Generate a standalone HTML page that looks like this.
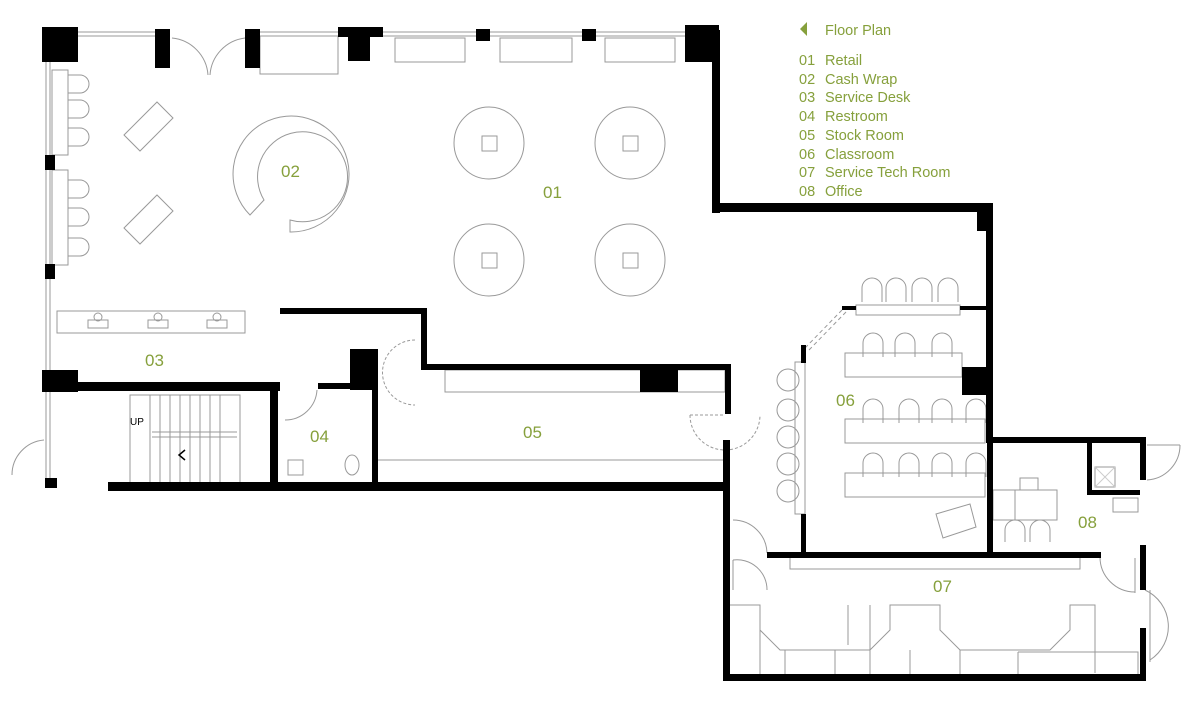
<!DOCTYPE html>
<html><head><meta charset="utf-8"><style>
html,body{margin:0;padding:0;background:#fff;width:1200px;height:709px;overflow:hidden}
svg{display:block}
.t{font-family:"Liberation Sans",sans-serif;fill:#86a03c}
</style></head><body>
<svg width="1200" height="709" viewBox="0 0 1200 709" xmlns="http://www.w3.org/2000/svg">
<g fill="none" stroke="#999" stroke-width="1">
<line x1="78" y1="32" x2="155" y2="32"/><line x1="78" y1="36" x2="155" y2="36"/>
<line x1="260" y1="32" x2="340" y2="32"/><line x1="260" y1="36" x2="340" y2="36"/>
<line x1="370" y1="32" x2="685" y2="32"/><line x1="370" y1="36" x2="685" y2="36"/>
<line x1="46" y1="62" x2="46" y2="380"/><line x1="50" y1="62" x2="50" y2="380"/>
<line x1="46" y1="392" x2="46" y2="480"/><line x1="50" y1="392" x2="50" y2="480"/>
<rect x="260" y="36" width="78" height="38"/>
<rect x="395" y="38" width="70" height="24"/><rect x="500" y="38" width="72" height="24"/><rect x="605" y="38" width="70" height="24"/>
<path d="M172 38 A40 40 0 0 1 208 75 M245 38 A40 40 0 0 0 210 75"/>
<rect x="52" y="70" width="16" height="85"/><rect x="52" y="170" width="16" height="95"/>
<path d="M68 75 h12 a8 8 0 0 1 0 18 h-12 M68 100 h12 a8 8 0 0 1 0 18 h-12 M68 128 h12 a8 8 0 0 1 0 18 h-12 M68 180 h12 a8 8 0 0 1 0 18 h-12 M68 208 h12 a8 8 0 0 1 0 18 h-12 M68 238 h12 a8 8 0 0 1 0 18 h-12"/>
<polygon points="124,135 157,102 173,118 140,151"/><polygon points="124,228 157,195 173,211 140,244"/>
<path d="M250 215 A58 58 0 1 1 290 232 L290 220 A45 45 0 1 0 264 200 Z"/>
<ellipse cx="489" cy="143" rx="35" ry="36"/><rect x="482" y="136" width="15" height="15"/>
<ellipse cx="630" cy="143" rx="35" ry="36"/><rect x="623" y="136" width="15" height="15"/>
<ellipse cx="489" cy="260" rx="35" ry="36"/><rect x="482" y="253" width="15" height="15"/>
<ellipse cx="630" cy="260" rx="35" ry="36"/><rect x="623" y="253" width="15" height="15"/>
<rect x="57" y="311" width="188" height="22"/>
<rect x="88" y="320" width="20" height="8"/><rect x="148" y="320" width="20" height="8"/><rect x="207" y="320" width="20" height="8"/>
<circle cx="98" cy="317" r="4"/><circle cx="158" cy="317" r="4"/><circle cx="217" cy="317" r="4"/>
<rect x="130" y="395" width="110" height="90"/>
<path d="M150 395v90 M160 395v90 M170 395v90 M180 395v90 M190 395v90 M200 395v90 M210 395v90 M220 395v90 M152 432 h85 M152 437 h85"/>
<path d="M12 475 A35 35 0 0 1 44 440"/>
<path d="M285 420 A32 32 0 0 0 317 390"/>
<rect x="288" y="460" width="15" height="15"/><ellipse cx="352" cy="465" rx="7" ry="10"/>
<rect x="445" y="370" width="280" height="22"/><line x1="378" y1="460" x2="725" y2="460"/>
<path d="M415 340 A32 32 0 0 0 415 405" stroke-dasharray="3 2"/>
<path d="M690 415 A35 35 0 0 0 760 415 M690 415 h35" stroke-dasharray="3 2"/>
<rect x="856" y="305" width="104" height="10"/>
<path d="M862 302 v-14 a10 10 0 0 1 20 0 v14 M886 302 v-14 a10 10 0 0 1 20 0 v14 M912 302 v-14 a10 10 0 0 1 20 0 v14 M938 302 v-14 a10 10 0 0 1 20 0 v14"/>
<rect x="845" y="353" width="117" height="24"/>
<rect x="845" y="419" width="140" height="24"/>
<rect x="845" y="473" width="140" height="24"/>
<path d="M863 357 v-14 a10 10 0 0 1 20 0 v14 M895 357 v-14 a10 10 0 0 1 20 0 v14 M932 357 v-14 a10 10 0 0 1 20 0 v14"/>
<path d="M863 423 v-14 a10 10 0 0 1 20 0 v14 M899 423 v-14 a10 10 0 0 1 20 0 v14 M932 423 v-14 a10 10 0 0 1 20 0 v14 M966 423 v-14 a10 10 0 0 1 20 0 v14"/>
<path d="M863 477 v-14 a10 10 0 0 1 20 0 v14 M899 477 v-14 a10 10 0 0 1 20 0 v14 M932 477 v-14 a10 10 0 0 1 20 0 v14 M966 477 v-14 a10 10 0 0 1 20 0 v14"/>
<rect x="795" y="362" width="10" height="152"/>
<circle cx="788" cy="380" r="11"/><circle cx="788" cy="410" r="11"/><circle cx="788" cy="437" r="11"/><circle cx="788" cy="464" r="11"/><circle cx="788" cy="491" r="11"/>
<polygon points="936,514 970,504 976,527 943,538"/>
<path d="M842 310 L805 348 M846 312 L809 350" stroke-dasharray="4 3"/>
<rect x="1015" y="490" width="42" height="30"/><rect x="993" y="490" width="22" height="30"/>
<path d="M1005 542 v-12 a10 10 0 0 1 20 0 v12 M1030 542 v-12 a10 10 0 0 1 20 0 v12"/>
<rect x="1020" y="478" width="18" height="12"/>
<rect x="1095" y="467" width="20" height="20"/><path d="M1095 467 L1115 487 M1115 467 L1095 487" stroke="#ccc"/>
<rect x="1113" y="498" width="25" height="14"/>
<path d="M1147 480 A35 35 0 0 0 1180 445 M1147 445 h33"/>
<rect x="790" y="557" width="290" height="12"/>
<path d="M733 520 A34 34 0 0 1 767 553 M733 560 A30 30 0 0 1 767 590 M733 560 v30" />
<path d="M1100 557 A35 35 0 0 0 1135 592 M1135 558 v35"/>
<path d="M1145 590 A40 40 0 0 1 1150 660 M1150 590 v72"/>
<path d="M730 605 h30 v25 l20 20 h90 l20 -20 v-25 h50 v25 l20 20 h90 l20 -20 v-25 h25 v68 M760 630 v45 M848 605 v40 M870 605 v70 M785 650 v25 M835 650 v25 M910 650 v25 M960 650 v25 M1018 652 h120 v23 M1018 652 v23"/>
</g>
<g fill="#000">
<rect x="42" y="27" width="36" height="35"/><rect x="155" y="29" width="15" height="39"/><rect x="245" y="29" width="15" height="39"/>
<rect x="338" y="27" width="45" height="10"/><rect x="348" y="27" width="22" height="34"/>
<rect x="476" y="29" width="14" height="12"/><rect x="582" y="29" width="14" height="12"/>
<rect x="685" y="25" width="34" height="37"/>
<rect x="45" y="155" width="10" height="15"/><rect x="45" y="264" width="10" height="15"/>
<rect x="712" y="30" width="8" height="183"/><rect x="712" y="203" width="281" height="9"/>
<rect x="977" y="203" width="16" height="28"/><rect x="986" y="203" width="7" height="240"/>
<rect x="42" y="370" width="36" height="22"/><rect x="70" y="382" width="210" height="9"/>
<rect x="270" y="382" width="8" height="105"/><rect x="45" y="478" width="12" height="10"/>
<rect x="108" y="482" width="622" height="9"/>
<rect x="318" y="383" width="35" height="6"/><rect x="350" y="349" width="28" height="41"/><rect x="372" y="388" width="6" height="98"/>
<rect x="280" y="308" width="147" height="6"/><rect x="421" y="308" width="6" height="62"/>
<rect x="421" y="364" width="310" height="6"/><rect x="640" y="366" width="38" height="26"/>
<rect x="725" y="364" width="6" height="50"/><rect x="723" y="440" width="7" height="240"/>
<rect x="842" y="306" width="14" height="4"/><rect x="960" y="306" width="28" height="4"/>
<rect x="801" y="345" width="5" height="18"/><rect x="801" y="514" width="5" height="42"/>
<rect x="962" y="367" width="26" height="28"/>
<rect x="986" y="437" width="160" height="6"/><rect x="987" y="440" width="6" height="116"/>
<rect x="1087" y="440" width="5" height="55"/><rect x="1087" y="490" width="53" height="5"/>
<rect x="1140" y="440" width="6" height="40"/><rect x="1140" y="545" width="6" height="45"/><rect x="1140" y="628" width="6" height="52"/>
<rect x="767" y="552" width="334" height="6"/><rect x="723" y="674" width="423" height="7"/>
</g>
<path d="M185 450 l-6 5 l6 5" fill="none" stroke="#000" stroke-width="1.5"/>
<text x="130" y="425" font-family="Liberation Sans,sans-serif" font-size="10" fill="#000">UP</text>
<g class="t" font-size="17">
<text x="543" y="198">01</text><text x="281" y="177">02</text><text x="145" y="366">03</text>
<text x="310" y="442">04</text><text x="523" y="438">05</text><text x="836" y="406">06</text>
<text x="933" y="592">07</text><text x="1078" y="528">08</text>
</g>
<polygon points="800,29 807,22 807,36" fill="#86a03c"/>
<g class="t" font-size="14.5">
<text x="825" y="35">Floor Plan</text>
<text x="799" y="65">01</text><text x="825" y="65">Retail</text>
<text x="799" y="84">02</text><text x="825" y="84">Cash Wrap</text>
<text x="799" y="102">03</text><text x="825" y="102">Service Desk</text>
<text x="799" y="121">04</text><text x="825" y="121">Restroom</text>
<text x="799" y="140">05</text><text x="825" y="140">Stock Room</text>
<text x="799" y="159">06</text><text x="825" y="159">Classroom</text>
<text x="799" y="177">07</text><text x="825" y="177">Service Tech Room</text>
<text x="799" y="196">08</text><text x="825" y="196">Office</text>
</g>
</svg>
</body></html>
